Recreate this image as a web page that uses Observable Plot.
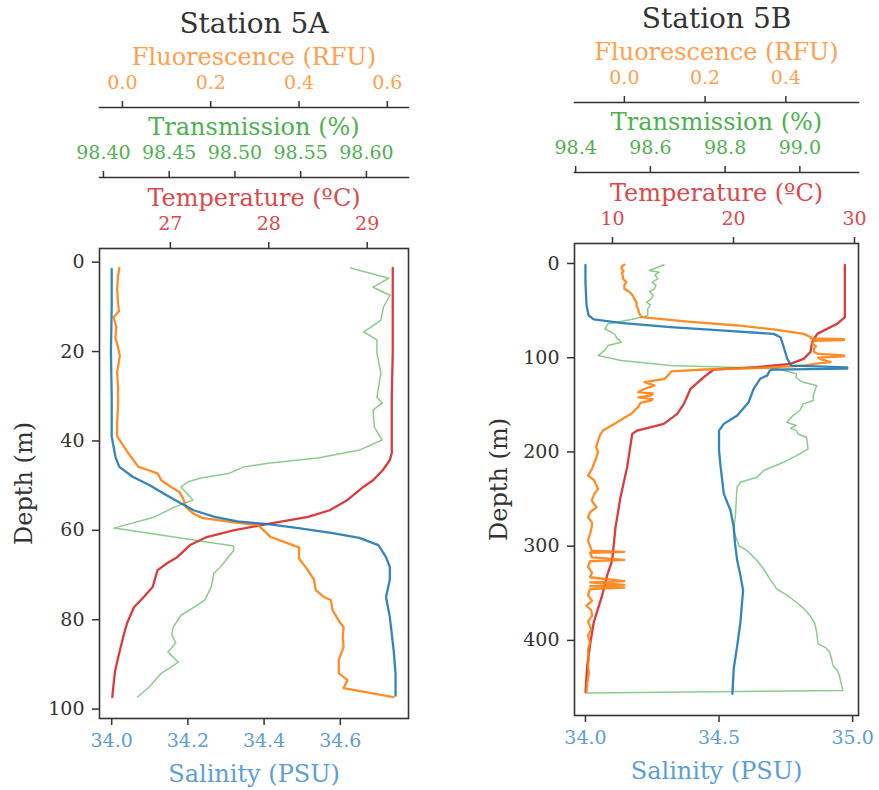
<!DOCTYPE html>
<html>
<head>
<meta charset="utf-8">
<script src="https://cdn.jsdelivr.net/npm/d3@7"></script>
<script src="https://cdn.jsdelivr.net/npm/@observablehq/plot@0.6"></script>
<style>
  body { margin: 0; background: #fff; }
  #chart { position: relative; width: 879px; height: 790px; overflow: hidden; font-family: 'DejaVu Serif', serif; }
  #chart svg { position: absolute; left: 0; top: 0; background: transparent; overflow: visible; }
  #chart svg text { font-family: 'DejaVu Serif', serif; }
</style>
</head>
<body>
<div id="chart"></div>
<script>
// ---------------- Station 5A data ----------------
const salA_depth = [1.5, 10, 20, 30, 39, 43.6, 45.8, 48, 49.9, 51.7, 53.9, 55.5, 57.0, 58.0, 58.6, 59.5, 60.6, 61.7, 63.3, 66, 68.2, 71, 74.9, 79.4, 86.8, 92, 97];
const salA = [34.0, 34.0, 33.998, 34.0, 34.0, 34.01, 34.02, 34.055, 34.10, 34.135, 34.18, 34.215, 34.27, 34.33, 34.41, 34.49, 34.58, 34.65, 34.70, 34.72, 34.73, 34.73, 34.72, 34.73, 34.74, 34.745, 34.745];

const fluA_depth = [1.3, 3, 6, 9, 11, 12.3, 14.5, 17, 19, 21, 24.6, 28, 32, 36, 39, 40.5, 42.7, 45.8, 46.5, 47.3, 48.8, 50.3, 51.4, 52.8, 54.8, 56.2, 57.2, 58.2, 58.8, 60, 61.5, 62.9, 63.8, 66.3, 68.9, 71.1, 73.4, 74.9, 75.6, 77.9, 80.8, 81.7, 83.9, 86.1, 89, 92, 93.5, 95.3, 97.3];
const fluA = [-0.007, -0.01, -0.012, -0.01, -0.008, -0.02, -0.014, -0.016, -0.01, -0.006, -0.012, -0.01, -0.01, -0.012, -0.012, -0.002, 0.013, 0.036, 0.058, 0.08, 0.088, 0.11, 0.129, 0.137, 0.144, 0.16, 0.18, 0.253, 0.307, 0.32, 0.336, 0.375, 0.40, 0.40, 0.42, 0.434, 0.438, 0.456, 0.472, 0.476, 0.494, 0.501, 0.499, 0.501, 0.49, 0.49, 0.51, 0.501, 0.614];

const tempA_depth = [1.3, 20, 30, 42.7, 44.3, 46.5, 48.8, 50.3, 51.4, 53.2, 55.5, 57, 58.6, 60, 61.5, 63.3, 66, 67.3, 68.9, 72.7, 74.9, 77.2, 80.8, 83.9, 88.4, 91.3, 95, 97.3];
const tempA = [29.26, 29.26, 29.25, 29.25, 29.23, 29.16, 29.06, 28.96, 28.9, 28.8, 28.62, 28.4, 27.98, 27.64, 27.37, 27.2, 27.07, 26.97, 26.87, 26.82, 26.73, 26.63, 26.56, 26.52, 26.47, 26.44, 26.42, 26.41];

const traA_depth = [1.3, 3.6, 5.6, 7.4, 10, 13, 15.6, 17.4, 20.4, 24.8, 30.2, 31.5, 33.1, 36.9, 39.8, 42, 43.8, 45, 45.8, 47.3, 48.3, 49.2, 50.3, 53.2, 54.8, 57.0, 59.5, 63.5, 64.5, 68.2, 69.6, 72.7, 75.6, 77.2, 79, 81.7, 83.4, 85.2, 87.2, 89.5, 92, 95, 97.3];
const traA = [98.588, 98.617, 98.605, 98.618, 98.613, 98.611, 98.598, 98.608, 98.608, 98.611, 98.608, 98.612, 98.605, 98.606, 98.612, 98.595, 98.563, 98.525, 98.507, 98.495, 98.474, 98.464, 98.459, 98.468, 98.454, 98.439, 98.408, 98.499, 98.499, 98.489, 98.484, 98.482, 98.477, 98.469, 98.459, 98.453, 98.452, 98.455, 98.449, 98.457, 98.444, 98.435, 98.426];

// ---------------- Station 5B data ----------------
const salB_depth = [1.4, 20, 44.6, 55.2, 59.4, 63, 67.6, 71.1, 74.7, 78.2, 87, 100.8, 108.3, 110.3, 111.5, 112.6, 113.6, 119, 122, 132.7, 147.6, 161.4, 170.2, 177.3, 198.5, 216.2, 244.5, 262.2, 280, 297.6, 315.3, 331, 347, 380.8, 405.5, 430, 456.8];
const salB = [34.0, 34.0, 34.004, 34.012, 34.031, 34.131, 34.318, 34.506, 34.704, 34.73, 34.74, 34.755, 34.77, 34.98, 34.98, 34.70, 34.69, 34.68, 34.655, 34.63, 34.61, 34.568, 34.518, 34.5, 34.5, 34.506, 34.518, 34.543, 34.555, 34.56, 34.568, 34.58, 34.59, 34.58, 34.568, 34.555, 34.55];

const tempB_depth = [1.4, 57, 64, 74.7, 83.5, 94, 101.2, 106.5, 110, 112.5, 120.7, 133, 149, 159.6, 170.2, 177.3, 180.8, 216.2, 248, 280, 315.3, 331, 352, 380.8, 402, 426.8, 455];
const tempB = [29.2, 29.2, 28.57, 26.92, 26.5, 26.36, 25.8, 24.7, 21.96, 18.37, 17.55, 16.45, 15.9, 15.35, 14.24, 12.04, 11.63, 11.21, 10.66, 10.25, 9.97, 9.56, 9.15, 8.45, 8.18, 7.91, 7.77];

const fluB_depth = [1.4, 3, 5.7, 8, 10, 13, 16.3, 19.8, 23, 26.9, 30, 34, 37, 41.1, 45, 48.1, 52, 57, 61.6, 65.8, 70, 74.7, 78.2, 79.5, 80.2, 81.2, 82, 85, 88, 90, 94, 96, 97.5, 98.5, 100, 102, 104.7, 106, 108.3, 111, 112.5, 114.6, 118, 122.4, 126, 129.5, 133, 136.6, 138, 140, 142, 144, 145.4, 148, 152.5, 156, 159.6, 165, 170.2, 174, 177.3, 182, 187.9, 195, 200, 205.6, 212, 218, 225, 230, 239.2, 245, 251.6, 258.7, 264, 269.3, 275, 280, 287, 294, 300, 304.7, 306, 307, 312, 314.5, 316, 322, 328, 333, 337, 338.5, 341, 342.5, 344, 345.5, 352, 358, 363, 368, 373.7, 380, 388, 395, 402, 410, 418, 426.8, 435, 445, 455];
const fluB = [0.0, -0.006, -0.007, -0.002, -0.006, -0.004, -0.003, 0.005, 0.0, 0.0, 0.012, 0.021, 0.024, 0.03, 0.03, 0.034, 0.036, 0.042, 0.157, 0.281, 0.37, 0.445, 0.462, 0.462, 0.544, 0.544, 0.47, 0.465, 0.475, 0.47, 0.47, 0.48, 0.544, 0.544, 0.48, 0.49, 0.511, 0.48, 0.445, 0.33, 0.198, 0.116, 0.11, 0.1, 0.05, 0.075, 0.05, 0.034, 0.07, 0.067, 0.035, 0.07, 0.067, 0.04, 0.034, 0.025, 0.017, -0.005, -0.024, -0.04, -0.053, -0.06, -0.065, -0.07, -0.065, -0.069, -0.075, -0.08, -0.09, -0.075, -0.065, -0.075, -0.081, -0.069, -0.085, -0.09, -0.08, -0.081, -0.085, -0.09, -0.085, -0.081, 0.0, -0.085, -0.08, 0.0, -0.085, -0.09, -0.08, -0.085, 0.0, -0.085, 0.0, -0.085, 0.0, -0.085, -0.09, -0.08, -0.094, -0.082, -0.08, -0.09, -0.082, -0.09, -0.085, -0.09, -0.088, -0.09, -0.088, -0.092, -0.094];

const traB_depth = [1.4, 4, 7.4, 9.2, 12, 16.2, 20, 23, 26.9, 30, 34, 37.5, 41, 44, 48.1, 55.2, 59.4, 64, 69.3, 74.7, 79, 83.5, 87, 92, 97.7, 103, 108.3, 110.4, 111.8, 117, 121, 124, 126, 129.5, 135, 140, 145.4, 149, 156, 162, 168.5, 172, 175, 177.3, 181, 184.4, 190, 196.7, 202, 211, 219.7, 226.9, 232.2, 237.5, 250, 265.7, 283.4, 294, 300, 304.7, 315.3, 324, 335, 345.3, 352, 359.5, 366, 373.7, 382, 391.4, 403.7, 408, 412.6, 420, 426.8, 432, 437.4, 445, 453.3, 455.7];
const traB = [98.637, 98.62, 98.597, 98.624, 98.612, 98.62, 98.605, 98.615, 98.611, 98.598, 98.608, 98.602, 98.59, 98.6, 98.593, 98.593, 98.549, 98.487, 98.478, 98.504, 98.51, 98.522, 98.487, 98.478, 98.46, 98.522, 98.655, 98.832, 98.938, 98.991, 98.99, 99.0, 99.009, 99.045, 99.04, 99.036, 99.036, 99.009, 99.0, 98.98, 98.965, 98.99, 98.975, 98.991, 98.995, 99.018, 99.02, 99.022, 99.0, 98.956, 98.903, 98.885, 98.841, 98.832, 98.83, 98.828, 98.823, 98.832, 98.838, 98.859, 98.885, 98.903, 98.92, 98.938, 98.965, 98.991, 99.01, 99.027, 99.04, 99.045, 99.049, 99.07, 99.08, 99.085, 99.089, 99.1, 99.106, 99.11, 99.115, 98.429];

// ---------------- ticks ----------------
const depthTicksA = [0, 20, 40, 60, 80, 100];
const depthTicksB = [0, 100, 200, 300, 400];
const salTicksA = [34.0, 34.2, 34.4, 34.6];
const salTicksB = [34.0, 34.5, 35.0];
const fluTicksA = [0.0, 0.2, 0.4, 0.6];
const fluTicksB = [0.0, 0.2, 0.4];
const traTicksA = [98.40, 98.45, 98.50, 98.55, 98.60];
const traTicksB = [98.4, 98.6, 98.8, 99.0];
const tempTicksA = [27, 28, 29];
const tempTicksB = [10, 20, 30];

// ---------------- styling ----------------
const W = 879, H = 790;
const FONT = "'DejaVu Serif', serif";
const C = {
  sal: "#1f77b4", flu: "#ff7f0e", tra: "#2ca02c", temp: "#d62728",
  salText: "#5b9ed3", fluText: "#ffa04f", traText: "#4fb04f", tempText: "#da4a4d",
  ink: "#333"
};

const rows = (depths, values) => depths.map((d, i) => ({depth: d, value: values[i]}));

function layer({frame, xDomain, yDomain, top, bottom, marks}) {
  const [l, t, r, b] = frame;
  const mt = top ?? t, mb = bottom ?? b;
  const opts = {
    width: W, height: H,
    marginLeft: l, marginRight: W - r, marginTop: mt, marginBottom: H - mb,
    x: {domain: xDomain, axis: null},
    style: {fontFamily: FONT, fontSize: "19px", background: "transparent", overflow: "visible"},
    marks
  };
  if (yDomain) opts.y = {domain: yDomain, reverse: true, axis: null};
  return Plot.plot(opts);
}

const topAxis = (ticks, fmt, color) => Plot.axisX({
  anchor: "top", ticks, tickFormat: fmt, tickSize: 7, tickPadding: 12,
  stroke: C.ink, strokeWidth: 1.5, fill: color, label: null, fontFamily: FONT
});
const label = (txt, anchor, dy, color, size = 24, extra = {}) =>
  Plot.text([txt], {text: d => d, frameAnchor: anchor, dy, fill: color, fontSize: size, fontFamily: FONT,
    lineAnchor: "middle", textAnchor: "middle", ...extra});

function panel(cfg) {
  const {frame, depthDomain, depthTicks, sal, flu, tra, temp, title, axisY} = cfg;
  const out = [];
  // temperature layer (axis on the frame top)
  out.push(layer({frame, xDomain: temp.domain, yDomain: depthDomain, marks: [
    Plot.line(temp.data, {x: "value", y: "depth", stroke: C.temp, strokeOpacity: 0.9, strokeWidth: 2.3}),
    topAxis(temp.ticks, temp.fmt, C.tempText),
    label("Temperature (ºC)", "top", -50, C.tempText)
  ]}));
  // transmission layer
  out.push(layer({frame, xDomain: tra.domain, yDomain: depthDomain, marks: [
    Plot.line(tra.data, {x: "value", y: "depth", stroke: C.tra, strokeOpacity: 0.55, strokeWidth: 1.5})
  ]}));
  // fluorescence layer
  out.push(layer({frame, xDomain: flu.domain, yDomain: depthDomain, marks: [
    Plot.line(flu.data, {x: "value", y: "depth", stroke: C.flu, strokeOpacity: 0.9, strokeWidth: 2.3})
  ]}));
  // salinity (host) layer
  out.push(layer({frame, xDomain: sal.domain, yDomain: depthDomain, marks: [
    Plot.line(sal.data, {x: "value", y: "depth", stroke: C.sal, strokeOpacity: 0.9, strokeWidth: 2.3}),
    Plot.frame({stroke: C.ink, strokeWidth: 1.6}),
    Plot.axisY({anchor: "left", ticks: depthTicks, tickSize: 7, tickPadding: 8, stroke: C.ink, strokeWidth: 1.5, fill: C.ink, label: null, fontFamily: FONT}),
    Plot.axisX({anchor: "bottom", ticks: sal.ticks, tickFormat: sal.fmt, tickSize: 7, tickPadding: 8, stroke: C.ink, strokeWidth: 1.5, fill: C.salText, label: null, fontFamily: FONT}),
    label("Depth (m)", "left", 0, C.ink, 24, {rotate: -90, dx: -75}),
    label("Salinity (PSU)", "bottom", 56, C.salText)
  ]}));
  // transmission axis strip
  out.push(layer({frame, xDomain: tra.domain, top: axisY.tra, bottom: axisY.tra + 1, marks: [
    Plot.frame({anchor: "top", stroke: C.ink, strokeWidth: 1.6}),
    topAxis(tra.ticks, tra.fmt, C.traText),
    label("Transmission (%)", "top", -50, C.traText)
  ]}));
  // fluorescence axis strip + station title
  out.push(layer({frame, xDomain: flu.domain, top: axisY.flu, bottom: axisY.flu + 1, marks: [
    Plot.frame({anchor: "top", stroke: C.ink, strokeWidth: 1.6}),
    topAxis(flu.ticks, flu.fmt, C.fluText),
    label("Fluorescence (RFU)", "top", -50, C.fluText),
    label(title, "top", -83, C.ink, 28)
  ]}));
  return out;
}

const f1 = d3.format(".1f"), f2 = d3.format(".2f"), f0 = d3.format("d");

const svgs = [
  ...panel({
    title: "Station 5A",
    frame: [99, 248, 408, 718],
    axisY: {tra: 177, flu: 107},
    depthDomain: [-3.06, 102.1],
    depthTicks: depthTicksA,
    sal: {data: rows(salA_depth, salA), domain: [33.968, 34.779], ticks: salTicksA, fmt: f1},
    flu: {data: rows(fluA_depth, fluA), domain: [-0.052, 0.648], ticks: fluTicksA, fmt: f1},
    tra: {data: rows(traA_depth, traA), domain: [98.397, 98.632], ticks: traTicksA, fmt: f2},
    temp: {data: rows(tempA_depth, tempA), domain: [26.28, 29.42], ticks: tempTicksA, fmt: f0}
  }),
  ...panel({
    title: "Station 5B",
    frame: [574, 243, 858, 715],
    axisY: {tra: 172, flu: 102},
    depthDomain: [-21.2, 479.7],
    depthTicks: depthTicksB,
    sal: {data: rows(salB_depth, salB), domain: [33.959, 35.022], ticks: salTicksB, fmt: f1},
    flu: {data: rows(fluB_depth, fluB), domain: [-0.1235, 0.58], ticks: fluTicksB, fmt: f1},
    tra: {data: rows(traB_depth, traB), domain: [98.397, 99.157], ticks: traTicksB, fmt: f1},
    temp: {data: rows(tempB_depth, tempB), domain: [6.86, 30.33], ticks: tempTicksB, fmt: f0}
  })
];
const chart = document.getElementById("chart");
for (const s of svgs) chart.appendChild(s);
</script>
</body>
</html>
